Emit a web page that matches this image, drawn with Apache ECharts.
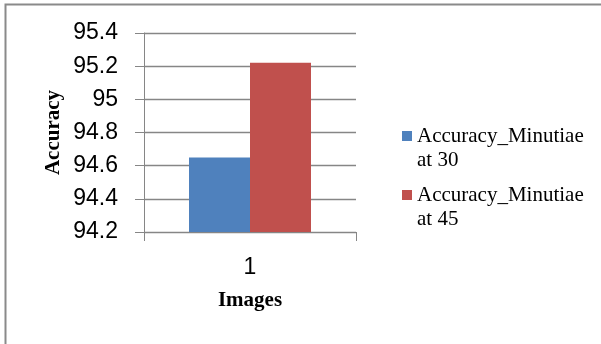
<!DOCTYPE html>
<html>
<head>
<meta charset="utf-8">
<script src="https://cdn.jsdelivr.net/npm/echarts@6/dist/echarts.min.js"></script>
<style>html,body{margin:0;padding:0;background:#fff;}#c{width:601px;height:344px;}</style>
</head>
<body>
<div id="c"></div>
<script>
const categories = ['1'];
const seriesNames = ['Accuracy_Minutiae\nat 30', 'Accuracy_Minutiae\nat 45'];
const minutiae30 = [94.65];
const minutiae45 = [95.22];
const yTicks = { min: 94.2, max: 95.4, interval: 0.2 };

const chart = echarts.init(document.getElementById('c'), null, { renderer: 'canvas' });
const gray = '#868686';
chart.setOption({
  animation: false,
  backgroundColor: '#fff',
  graphic: [{
    type: 'rect', silent: true,
    shape: { x: 5.5, y: 4.5, width: 800, height: 600 },
    style: { fill: 'none', stroke: '#8a8a8a', lineWidth: 2 }
  }],
  grid: { left: 144, right: 245, top: 33, bottom: 112 },
  legend: {
    orient: 'vertical', left: 397, top: 95,
    itemWidth: 10, itemHeight: 10, itemGap: -13,
    icon: 'rect',
    formatter: function (name) { return '\n' + name; },
    textStyle: { fontFamily: 'Liberation Serif', fontSize: 21, color: '#000', lineHeight: 24 },
    data: seriesNames
  },
  xAxis: {
    type: 'category', data: categories,
    name: 'Images', nameLocation: 'middle', nameGap: 58,
    nameTextStyle: { fontFamily: 'Liberation Serif', fontWeight: 'bold', fontSize: 21, color: '#000' },
    axisLine: { lineStyle: { color: gray, width: 1 } },
    axisTick: { show: true, length: 9, alignWithLabel: false, lineStyle: { color: gray } },
    axisLabel: { fontFamily: 'Liberation Sans', fontSize: 23, color: '#000', margin: 24 }
  },
  yAxis: {
    type: 'value', min: yTicks.min, max: yTicks.max, interval: yTicks.interval,
    name: 'Accuracy', nameLocation: 'middle', nameGap: 80,
    nameTextStyle: { fontFamily: 'Liberation Serif', fontWeight: 'bold', fontSize: 21, color: '#000' },
    axisLine: { show: true, lineStyle: { color: gray, width: 1 } },
    axisTick: { show: true, length: 9, lineStyle: { color: gray } },
    axisLabel: { fontFamily: 'Liberation Sans', fontSize: 23, color: '#000', margin: 26 },
    splitLine: { show: true, lineStyle: { color: gray, width: 1.3 } }
  },
  series: [
    { name: seriesNames[0], type: 'bar', data: minutiae30, barWidth: 61, barGap: '0%', itemStyle: { color: '#4F81BD' } },
    { name: seriesNames[1], type: 'bar', data: minutiae45, barWidth: 61, barGap: '0%', itemStyle: { color: '#C0504D' } }
  ]
});
</script>
</body>
</html>
